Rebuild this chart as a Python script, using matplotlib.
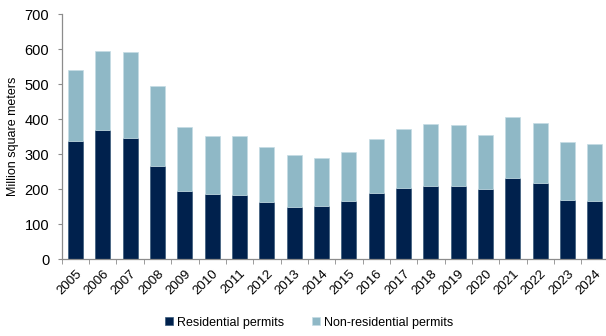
import numpy as np
import matplotlib.pyplot as plt

plt.rcParams['font.family'] = ['Liberation Sans', 'DejaVu Sans']

years = [str(y) for y in range(2005, 2025)]
residential = [338, 370, 346, 265, 195, 186, 184, 163, 149, 152,
               165, 188, 203, 210, 210, 200, 232, 216, 168, 165]
total = [540, 595, 592, 495, 377, 351, 351, 319, 297, 288,
         307, 344, 371, 386, 383, 354, 407, 390, 334, 329]
non_residential = [t - r for t, r in zip(total, residential)]

dark = '#00214d'
light = '#8fb8c6'
axis_grey = '#8c8c8c'

fig = plt.figure(figsize=(6.06, 3.36), dpi=100)
ax = fig.add_axes([0.102, 0.229, 0.9, 0.729])

x = np.arange(len(years))
w = 0.55
ax.bar(x, residential, w, color=dark, edgecolor='#3a5a7a', linewidth=0.5,
       label='Residential permits')
ax.bar(x, non_residential, w, bottom=residential, color=light,
       edgecolor='#c5dce4', linewidth=0.5, label='Non-residential permits')

ax.set_xlim(-0.5, 19.45)
ax.set_ylim(0, 700)
ax.set_yticks(range(0, 701, 100))
ax.tick_params(axis='y', labelsize=10.5, length=3, color=axis_grey, pad=6)

# category labels in the middle, tick marks on the boundaries
ax.set_xticks(x)
ax.set_xticklabels(years, rotation=45, ha='right', rotation_mode='anchor',
                   fontsize=9.5)
ax.set_xticks(np.arange(-0.5, 19.5, 1), minor=True)
ax.tick_params(axis='x', which='major', length=0, pad=6)
ax.tick_params(axis='x', which='minor', length=3.5, color=axis_grey)

for side in ['top', 'right']:
    ax.spines[side].set_visible(False)
for side in ['left', 'bottom']:
    ax.spines[side].set_color(axis_grey)
    ax.spines[side].set_linewidth(0.9)

ax.set_ylabel('Million square meters', fontsize=9, labelpad=4)

fig.legend(loc='center', bbox_to_anchor=(0.51, 0.04), ncol=2, frameon=False,
           fontsize=9, handlelength=0.65, handleheight=0.65,
           handletextpad=0.35, columnspacing=2.2)

fig.savefig('out.png', dpi=100)
